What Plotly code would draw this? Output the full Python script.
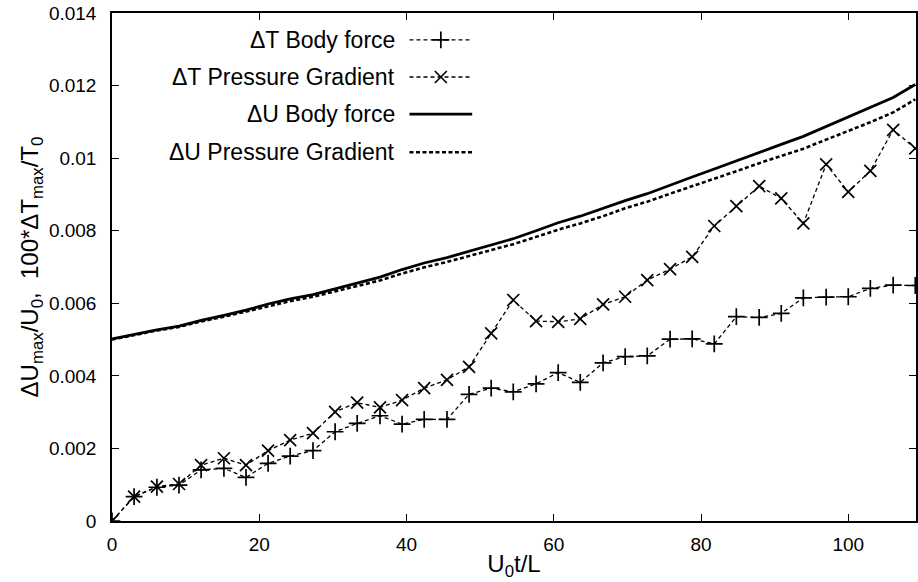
import plotly.graph_objects as go

# ---- data ----
t = [0, 3.0, 6.1, 9.1, 12.1, 15.2, 18.2, 21.2, 24.2, 27.3, 30.3, 33.3, 36.4,
     39.4, 42.4, 45.5, 48.5, 51.5, 54.5, 57.6, 60.6, 63.6, 66.7, 69.7, 72.7,
     75.8, 78.8, 81.8, 84.8, 87.9, 90.9, 93.9, 97.0, 100.0, 103.0, 106.1, 109.1]

dT_body = [0, 0.00067, 0.00093, 0.00099, 0.00141, 0.00145, 0.00120, 0.00159,
           0.00179, 0.00194, 0.00246, 0.00269, 0.00290, 0.00267, 0.00280,
           0.00280, 0.00349, 0.00366, 0.00356, 0.00378, 0.00409, 0.00382,
           0.00436, 0.00453, 0.00455, 0.00501, 0.00502, 0.00488, 0.00563,
           0.00561, 0.00572, 0.00615, 0.00617, 0.00618, 0.00641, 0.00650, 0.00649]

dT_press = [0, 0.00067, 0.00095, 0.00102, 0.00154, 0.00173, 0.00154, 0.00194,
            0.00223, 0.00242, 0.00301, 0.00326, 0.00313, 0.00333, 0.00366,
            0.00389, 0.00425, 0.00517, 0.00609, 0.00551, 0.00549, 0.00557,
            0.00597, 0.00618, 0.00664, 0.00694, 0.00728, 0.00813, 0.00868,
            0.00923, 0.00889, 0.00820, 0.00983, 0.00907, 0.00965, 0.01078, 0.01027]

dU_body = [0.00502, 0.00515, 0.00527, 0.00537, 0.00553, 0.00567, 0.00581,
           0.00598, 0.00612, 0.00624, 0.00640, 0.00656, 0.00672, 0.00693,
           0.00711, 0.00726, 0.00743, 0.00760, 0.00778, 0.00800, 0.00822,
           0.00840, 0.00862, 0.00883, 0.00902, 0.00926, 0.00948, 0.00970,
           0.00993, 0.01017, 0.01038, 0.01060, 0.01087, 0.01112, 0.01138,
           0.01167, 0.01203]

dU_press = [0.00500, 0.00513, 0.00525, 0.00535, 0.00550, 0.00563, 0.00577,
            0.00593, 0.00606, 0.00618, 0.00633, 0.00648, 0.00663, 0.00682,
            0.00699, 0.00714, 0.00730, 0.00746, 0.00763, 0.00783, 0.00803,
            0.00820, 0.00840, 0.00862, 0.00880, 0.00902, 0.00922, 0.00942,
            0.00964, 0.00986, 0.01006, 0.01026, 0.01051, 0.01074, 0.01099,
            0.01126, 0.01162]

names = ["\u0394T Body force", "\u0394T Pressure Gradient",
         "\u0394U Body force", "\u0394U Pressure Gradient"]

x_ticks = [0, 20, 40, 60, 80, 100]
y_ticks = [0, 0.002, 0.004, 0.006, 0.008, 0.01, 0.012, 0.014]
y_ticktext = ["0", "0.002", "0.004", "0.006", "0.008", "0.01", "0.012", "0.014"]

FONT = "Liberation Sans, Arial, sans-serif"

styles = [
    dict(line=dict(color="black", width=1.3, dash="4px,3px"),
         marker=dict(symbol="cross-thin", size=12, line=dict(color="black", width=1.7)),
         mode="lines+markers"),
    dict(line=dict(color="black", width=1.3, dash="4px,3px"),
         marker=dict(symbol="x-thin", size=12, line=dict(color="black", width=1.7)),
         mode="lines+markers"),
    dict(line=dict(color="black", width=2.8), mode="lines"),
    dict(line=dict(color="black", width=2.6, dash="4px,2.5px"), mode="lines"),
]

series = [dT_body, dT_press, dU_body, dU_press]

fig = go.Figure()
for s, st, nm in zip(series, styles, names):
    fig.add_trace(go.Scatter(x=t, y=s, name=nm, showlegend=False, **st))

# legend samples on an overlay [0,1] axis pair
leg_y = [0.947, 0.874, 0.801, 0.726]
sx0, sx1, sxm = 0.370, 0.448, 0.409
for i, (st, yy) in enumerate(zip(styles, leg_y)):
    ln = dict(st["line"])
    fig.add_trace(go.Scatter(x=[sx0, sx1], y=[yy, yy], mode="lines", line=ln,
                             xaxis="x2", yaxis="y2", showlegend=False,
                             hoverinfo="skip"))
    if "marker" in st:
        fig.add_trace(go.Scatter(x=[sxm], y=[yy], mode="markers",
                                 marker=st["marker"], xaxis="x2", yaxis="y2",
                                 showlegend=False, hoverinfo="skip"))
    fig.add_annotation(x=0.354, y=yy, xref="x2", yref="y2", text=names[i],
                       showarrow=False, xanchor="right", yanchor="middle",
                       font=dict(family=FONT, size=23, color="black"))

axis_common = dict(showline=True, linecolor="black", linewidth=1.5,
                   mirror="ticks", ticks="inside", ticklen=7, tickwidth=1.3,
                   tickcolor="black", showgrid=False, zeroline=False,
                   tickfont=dict(family=FONT, size=19, color="black"))

fig.update_layout(
    width=918, height=582,
    margin=dict(l=112, r=0, t=13, b=61),
    plot_bgcolor="white", paper_bgcolor="white",
    showlegend=False,
    xaxis=dict(range=[0, 109.2], tickvals=x_ticks, ticklabelstandoff=5,
               title=dict(text="U<sub>0</sub>t/L", standoff=2,
                          font=dict(family=FONT, size=24, color="black")),
               **axis_common),
    yaxis=dict(range=[0, 0.014], tickvals=y_ticks, ticktext=y_ticktext,
               ticklabelstandoff=10,
               title=dict(text="\u0394U<sub>max</sub>/U<sub>0</sub>,  100*\u0394T<sub>max</sub>/T<sub>0</sub>",
                          standoff=4,
                          font=dict(family=FONT, size=24, color="black")),
               **axis_common),
    xaxis2=dict(range=[0, 1], overlaying="x", visible=False, anchor="y2"),
    yaxis2=dict(range=[0, 1], overlaying="y", visible=False, anchor="x2"),
)

fig.write_html("out.html")
